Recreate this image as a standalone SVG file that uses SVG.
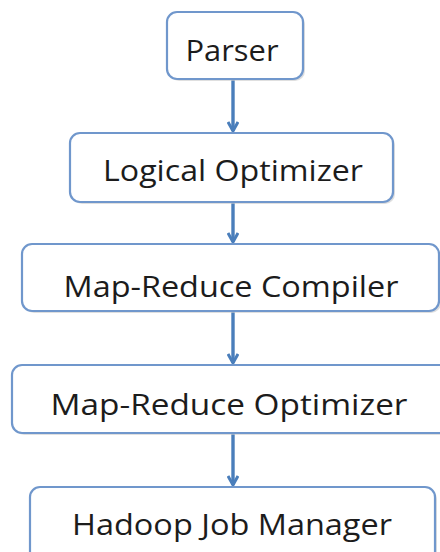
<svg xmlns="http://www.w3.org/2000/svg" width="440" height="552" viewBox="0 0 440 552">
<defs>
<style>
.box{fill:#ffffff;stroke:#7097cc;stroke-width:2.2}
.sh{fill:#c9c9c9;opacity:0.6}
.t{font-family:"Open Sans","Liberation Sans",sans-serif;font-size:30px;fill:#1c1c1c;text-anchor:middle}
.c{stroke:#4a7ebb;stroke-width:3.4;fill:none}
</style>
<marker id="ah" viewBox="0 0 12 12" refX="10" refY="6" markerWidth="12" markerHeight="12" markerUnits="userSpaceOnUse" orient="auto">
<path d="M1,1 L10,6 L1,11" fill="none" stroke="#4a7ebb" stroke-width="3"/>
</marker>
</defs>
<rect width="440" height="552" fill="#ffffff"/>
<g id="connectors">
<line class="c" x1="233" y1="80" x2="233" y2="131" marker-end="url(#ah)"/>
<line class="c" x1="233" y1="203" x2="233" y2="242" marker-end="url(#ah)"/>
<line class="c" x1="233" y1="312" x2="233" y2="363" marker-end="url(#ah)"/>
<line class="c" x1="233" y1="434" x2="233" y2="485" marker-end="url(#ah)"/>
</g>
<g id="parser">
<rect class="sh" x="169" y="14" width="136" height="67" rx="10"/>
<rect class="box" x="167" y="12" width="136" height="67" rx="10"/>
<text class="t" x="232" y="61" textLength="93" lengthAdjust="spacingAndGlyphs">Parser</text>
</g>
<g id="logical-optimizer">
<rect class="sh" x="72" y="135" width="323" height="69" rx="10"/>
<rect class="box" x="70" y="133" width="323" height="69" rx="10"/>
<text class="t" x="233" y="181" textLength="260" lengthAdjust="spacingAndGlyphs">Logical Optimizer</text>
</g>
<g id="mr-compiler">
<rect class="sh" x="24" y="246" width="417" height="67" rx="10"/>
<rect class="box" x="22" y="244" width="417" height="67" rx="10"/>
<text class="t" x="231" y="297" textLength="335" lengthAdjust="spacingAndGlyphs">Map-Reduce Compiler</text>
</g>
<g id="mr-optimizer">
<rect class="sh" x="14" y="367" width="440" height="68" rx="10"/>
<rect class="box" x="12" y="365" width="440" height="68" rx="10"/>
<text class="t" x="229" y="415" textLength="357" lengthAdjust="spacingAndGlyphs">Map-Reduce Optimizer</text>
</g>
<g id="hadoop-job-manager">
<rect class="sh" x="32" y="489" width="405" height="80" rx="10"/>
<rect class="box" x="30" y="487" width="405" height="80" rx="10"/>
<text class="t" x="232" y="535" textLength="320" lengthAdjust="spacingAndGlyphs">Hadoop Job Manager</text>
</g>
</svg>
